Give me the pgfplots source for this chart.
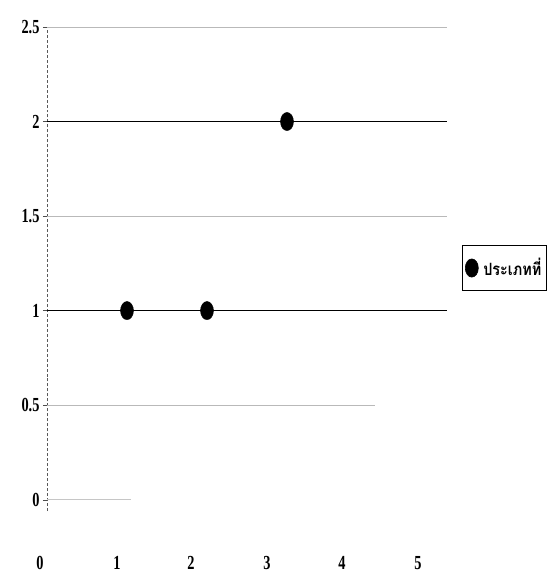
\documentclass[border=0pt]{standalone}
\usepackage{pgfplots}
\pgfplotsset{compat=1.18}
\usepackage{fontspec}
\setmainfont{Liberation Serif}[FakeStretch=0.72]
\newfontfamily\thaifont[Script=Thai,FakeStretch=0.85]{Loma}
\begin{document}
\begin{tikzpicture}
\begin{axis}[
  scale only axis, width=400bp, height=484bp,
  xmin=0, xmax=5, ymin=-0.06, ymax=2.5,
  clip=false,
  axis lines*=left,
  x axis line style={draw=none},
  y axis line style={densely dashed, black!65},
  ytick={0,0.5,1,1.5,2,2.5},
  yticklabels={0,0.5,1,1.5,2,2.5},
  xtick={0,0.9625,1.8875,2.8375,3.775,4.725},
  xticklabels={0,1,2,3,4,5},
  xtick style={draw=none},
  ytick style={black!70},
  tick align=outside, major tick length=4bp,
  ticklabel style={font=\bfseries\fontsize{20}{20}\selectfont},
  xticklabel style={yshift=-38bp, xshift=-7bp},
  /pgf/number format/assume math mode=true,
  legend style={at={(1.0375,0.502)}, anchor=west, draw=black, line width=0.6pt,
    font=\thaifont\bfseries\fontsize{17}{17}\selectfont, inner xsep=3bp, inner ysep=11bp,
    /tikz/every even column/.append style={column sep=2bp}},
  legend cell align=left,
]
\draw[gray!55] (axis cs:0,2.5) -- (axis cs:5,2.5);
\draw[gray!55] (axis cs:0,1.5) -- (axis cs:5,1.5);
\draw[gray!55] (axis cs:0,0.5) -- (axis cs:4.1,0.5);
\draw[gray!45] (axis cs:0,0) -- (axis cs:1.05,0);
\draw[black, line width=0.7pt] (axis cs:0,2) -- (axis cs:5,2);
\draw[black, line width=0.7pt] (axis cs:0,1) -- (axis cs:5,1);
\addplot[only marks, mark=*, mark size=6.5bp, mark options={fill=black, yscale=1.4}]
  coordinates {(1,1) (2,1) (3,2)};
\addlegendentry{\hspace{3bp}ประเภทที่}
\coordinate (bl) at (rel axis cs:0,0);
\end{axis}
\pgfresetboundingbox
\path (bl) ++(-47bp,-63bp) rectangle ++(555bp,574bp);
\end{tikzpicture}
\end{document}
